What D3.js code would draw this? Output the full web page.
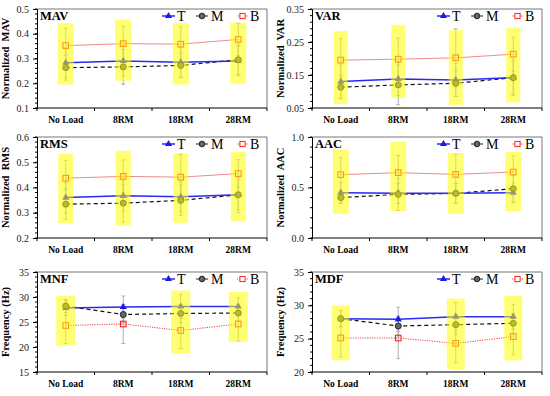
<!DOCTYPE html>
<html>
<head>
<meta charset="utf-8">
<script src="https://cdn.jsdelivr.net/npm/d3@7/dist/d3.min.js"></script>
<style>
  body { margin: 0; background: #fff; }
  svg text { font-family: "Liberation Serif", "Times New Roman", serif !important; }
</style>
</head>
<body>
<svg id="chart" width="550" height="396" font-family="Liberation Serif, serif"></svg>
<script>
// categories and series
const categories = ["No Load", "8RM", "18RM", "28RM"];
const seriesNames = ["T", "M", "B"];

// MAV
const mavT = [0.283, 0.290, 0.285, 0.290];
const mavM = [0.263, 0.266, 0.272, 0.295];
const mavB = [0.352, 0.360, 0.358, 0.377];
const mavErrT = [0.06, 0.06, 0.06, 0.06];
const mavErrM = [0.05, 0.07, 0.05, 0.06];
const mavErrB = [0.07, 0.07, 0.07, 0.065];
const mavBox = [[0.195, 0.443], [0.21, 0.457], [0.195, 0.443], [0.198, 0.445]];

// VAR
const varT = [0.130, 0.138, 0.135, 0.142];
const varM = [0.113, 0.120, 0.125, 0.142];
const varB = [0.195, 0.198, 0.202, 0.213];
const varErrT = [0.05, 0.05, 0.05, 0.05];
const varErrM = [0.035, 0.06, 0.04, 0.055];
const varErrB = [0.065, 0.064, 0.088, 0.052];
const varBox = [[0.062, 0.283], [0.081, 0.302], [0.059, 0.286], [0.067, 0.293]];

// RMS
const rmsT = [0.360, 0.367, 0.363, 0.371];
const rmsM = [0.334, 0.338, 0.349, 0.371];
const rmsB = [0.437, 0.444, 0.441, 0.455];
const rmsErrT = [0.06, 0.06, 0.06, 0.06];
const rmsErrM = [0.06, 0.075, 0.06, 0.07];
const rmsErrB = [0.07, 0.065, 0.09, 0.055];
const rmsBox = [[0.259, 0.534], [0.25, 0.545], [0.26, 0.536], [0.266, 0.54]];

// AAC
const aacT = [0.449, 0.442, 0.442, 0.449];
const aacM = [0.400, 0.432, 0.442, 0.488];
const aacB = [0.627, 0.647, 0.630, 0.653];
const aacErrT = [0.1, 0.1, 0.1, 0.1];
const aacErrM = [0.06, 0.16, 0.1, 0.13];
const aacErrB = [0.17, 0.17, 0.2, 0.16];
const aacBox = [[0.24, 0.878], [0.267, 0.95], [0.24, 0.842], [0.264, 0.851]];

// MNF
const mnfT = [27.8, 28.0, 28.1, 28.1];
const mnfM = [28.2, 26.5, 26.7, 26.8];
const mnfB = [24.3, 24.6, 23.3, 24.6];
const mnfErrT = [1.5, 2.2, 2.4, 1.7];
const mnfErrM = [1.3, 1.6, 1.8, 1.6];
const mnfErrB = [3.6, 3.9, 3.6, 3.4];
const mnfBox = [[20.3, 30.2], null, [18.7, 31.3], [21, 31]];

// MDF
const mdfT = [28.0, 27.9, 28.3, 28.3];
const mdfM = [28.0, 26.9, 27.1, 27.3];
const mdfB = [25.1, 25.1, 24.3, 25.3];
const mdfErrT = [1.25, 1.8, 2.1, 1.85];
const mdfErrM = [1.2, 1.5, 1.5, 1.5];
const mdfErrB = [2.85, 3.1, 2.9, 2.75];
const mdfBox = [[21.75, 30], null, [20.4, 31], [21.75, 31.4]];

const panels = [
  { name: "MAV", ylab: "Normalized  MAV", dom: [0.1, 0.5], ticks: [0.1, 0.2, 0.3, 0.4, 0.5], fmt: ".1f",
    vals: [mavT, mavM, mavB], errs: [mavErrT, mavErrM, mavErrB], box: mavBox, boxW: 16, bDot: false },
  { name: "VAR", ylab: "Normalized  VAR", dom: [0.05, 0.35], ticks: [0.05, 0.15, 0.25, 0.35], fmt: ".2f",
    vals: [varT, varM, varB], errs: [varErrT, varErrM, varErrB], box: varBox, boxW: 14, bDot: false },
  { name: "RMS", ylab: "Normalized  RMS", dom: [0.2, 0.6], ticks: [0.2, 0.3, 0.4, 0.5, 0.6], fmt: ".1f",
    vals: [rmsT, rmsM, rmsB], errs: [rmsErrT, rmsErrM, rmsErrB], box: rmsBox, boxW: 15, bDot: false },
  { name: "AAC", ylab: "Normalized  AAC", dom: [0, 1], ticks: [0, 0.5, 1], fmt: ".1f",
    vals: [aacT, aacM, aacB], errs: [aacErrT, aacErrM, aacErrB], box: aacBox, boxW: 16, bDot: false },
  { name: "MNF", ylab: "Frequency (Hz)", dom: [15, 35], ticks: [15, 20, 25, 30, 35], fmt: "d",
    vals: [mnfT, mnfM, mnfB], errs: [mnfErrT, mnfErrM, mnfErrB], box: mnfBox, boxW: 19, bDot: true },
  { name: "MDF", ylab: "Frequency (Hz)", dom: [20, 35], ticks: [20, 25, 30, 35], fmt: "d",
    vals: [mdfT, mdfM, mdfB], errs: [mdfErrT, mdfErrM, mdfErrB], box: mdfBox, boxW: 18, bDot: true }
];

const colLeft = [37, 312];
const rowBox = [[9, 108], [137, 238], [272, 372]];
const plotW = 230;
const serif = "Liberation Serif, Times New Roman, serif";

const lineColor = { T: "#2a2af0", M: "#111", B: "#f08a8a" };

const svg = d3.select("#chart");

const triangle = d3.symbol().type(d3.symbolTriangle).size(22);

panels.forEach((p, i) => {
  const left = colLeft[i % 2];
  const [top, bottom] = rowBox[Math.floor(i / 2)];
  const g = svg.append("g").attr("font-family", serif);

  const x = d3.scaleBand().domain(categories).range([left, left + plotW]).padding(0);
  const y = d3.scaleLinear().domain(p.dom).range([bottom, top]);
  const cx = d => x(d) + x.bandwidth() / 2;

  // frame (top + right)
  g.append("path")
    .attr("d", `M${left},${top}H${left + plotW}V${bottom}`)
    .attr("fill", "none").attr("stroke", "#777").attr("stroke-width", 1);

  // x axis
  const xa = g.append("g");
  xa.append("line").attr("x1", left).attr("x2", left + plotW)
    .attr("y1", bottom).attr("y2", bottom).attr("stroke", "#000");
  xa.selectAll(".xt").data(d3.range(categories.length + 1)).join("line")
    .attr("x1", k => left + k * x.bandwidth()).attr("x2", k => left + k * x.bandwidth())
    .attr("y1", bottom).attr("y2", bottom + 3).attr("stroke", "#000");
  xa.selectAll(".xl").data(categories).join("text")
    .attr("x", cx).attr("y", bottom + 15)
    .attr("text-anchor", "middle").attr("font-size", "9.5px").attr("font-weight", "bold")
    .style("font-family", serif)
    .text(d => d);

  // y axis
  const ya = g.append("g").attr("transform", `translate(${left},0)`)
    .call(d3.axisLeft(y).tickValues(p.ticks).tickFormat(d3.format(p.fmt)).tickSize(4).tickPadding(4));
  ya.attr("font-family", serif);
  ya.select(".domain").attr("stroke", "#000");
  ya.selectAll("text").attr("font-size", "10px").attr("fill", "#222")
    .style("font-family", serif);
  const step = p.ticks[1] - p.ticks[0];
  const minor = d3.range(p.dom[0], p.dom[1] + 1e-9, step / 5);
  g.selectAll(".minor").data(minor).join("line")
    .attr("x1", left - 2).attr("x2", left)
    .attr("y1", d => y(d)).attr("y2", d => y(d)).attr("stroke", "#000");

  g.append("text")
    .attr("transform", `translate(${left - 28},${(top + bottom) / 2}) rotate(-90)`)
    .attr("text-anchor", "middle").attr("font-size", "10.5px").attr("font-weight", "bold")
    .style("white-space", "pre").style("font-family", serif)
    .text(p.ylab);

  // error bars
  p.vals.forEach((vals, s) => {
    const eg = g.append("g").attr("stroke", "#a8a8a8").attr("stroke-width", 0.9);
    categories.forEach((c, k) => {
      const lo = y(vals[k] - p.errs[s][k]), hi = y(vals[k] + p.errs[s][k]);
      eg.append("line").attr("x1", cx(c)).attr("x2", cx(c)).attr("y1", lo).attr("y2", hi);
      eg.append("line").attr("x1", cx(c) - 2).attr("x2", cx(c) + 2).attr("y1", lo).attr("y2", lo);
      eg.append("line").attr("x1", cx(c) - 2).attr("x2", cx(c) + 2).attr("y1", hi).attr("y2", hi);
    });
  });

  // lines
  const line = d3.line().x((d, k) => cx(categories[k])).y(d => y(d));
  g.append("path").datum(p.vals[2]).attr("d", line).attr("fill", "none")
    .attr("stroke", p.bDot ? "#f04040" : lineColor.B).attr("stroke-width", 1)
    .attr("stroke-dasharray", p.bDot ? "1.2,1.2" : null);
  g.append("path").datum(p.vals[1]).attr("d", line).attr("fill", "none")
    .attr("stroke", lineColor.M).attr("stroke-width", 1.2).attr("stroke-dasharray", "4,3");
  g.append("path").datum(p.vals[0]).attr("d", line).attr("fill", "none")
    .attr("stroke", lineColor.T).attr("stroke-width", 1.5);

  // markers
  g.selectAll(".mt").data(p.vals[0]).join("path")
    .attr("d", triangle)
    .attr("transform", (d, k) => `translate(${cx(categories[k])},${y(d)})`)
    .attr("fill", "#1a1aee");
  g.selectAll(".mm").data(p.vals[1]).join("circle")
    .attr("cx", (d, k) => cx(categories[k])).attr("cy", d => y(d)).attr("r", 3)
    .attr("fill", "#666").attr("stroke", "#222").attr("stroke-width", 1);
  g.selectAll(".mb").data(p.vals[2]).join("rect")
    .attr("x", (d, k) => cx(categories[k]) - 2.8).attr("y", d => y(d) - 2.8)
    .attr("width", 5.6).attr("height", 5.6)
    .attr("fill", "#fff").attr("fill-opacity", 0).attr("stroke", "#ff2020").attr("stroke-width", 1.1);

  // yellow highlight boxes on top
  g.selectAll(".hb").data(p.box.map((b, k) => [b, k]).filter(d => d[0])).join("rect")
    .attr("x", d => cx(categories[d[1]]) - p.boxW / 2)
    .attr("width", p.boxW)
    .attr("y", d => y(d[0][1]))
    .attr("height", d => y(d[0][0]) - y(d[0][1]))
    .attr("fill", "#ffff00").attr("opacity", 0.55);

  // title
  g.append("text").attr("x", left + 3).attr("y", top + 11)
    .attr("font-size", "12.5px").attr("font-weight", "bold").style("font-family", serif).text(p.name);

  // legend
  const ly = top + 7;
  const leg = g.append("g").attr("transform", `translate(${left},${ly})`);
  const items = [
    { k: "T", x0: 125, x1: 138, tx: 140 },
    { k: "M", x0: 159, x1: 171, tx: 174 },
    { k: "B", x0: 200, x1: 211, tx: 213 }
  ];
  items.forEach(it => {
    const mid = (it.x0 + it.x1) / 2;
    leg.append("line").attr("x1", it.x0).attr("x2", it.x1).attr("y1", 0).attr("y2", 0)
      .attr("stroke", it.k === "T" ? lineColor.T : it.k === "M" ? "#222" : (p.bDot ? "#f04040" : lineColor.B))
      .attr("stroke-width", it.k === "T" ? 1.5 : 1)
      .attr("stroke-dasharray", it.k === "B" && p.bDot ? "1.2,1.2" : null);
    if (it.k === "T") {
      leg.append("path").attr("d", triangle).attr("transform", `translate(${mid},0)`).attr("fill", "#1a1aee");
    } else if (it.k === "M") {
      leg.append("circle").attr("cx", mid).attr("cy", 0).attr("r", 2.8)
        .attr("fill", "#666").attr("stroke", "#222");
    } else {
      leg.append("rect").attr("x", mid - 2.6).attr("y", -2.6).attr("width", 5.2).attr("height", 5.2)
        .attr("fill", "#fff").attr("stroke", "#ff2020");
    }
    leg.append("text").attr("x", it.tx).attr("y", 5).attr("font-size", "14px")
      .style("font-family", serif).text(it.k);
  });
});
</script>
</body>
</html>
